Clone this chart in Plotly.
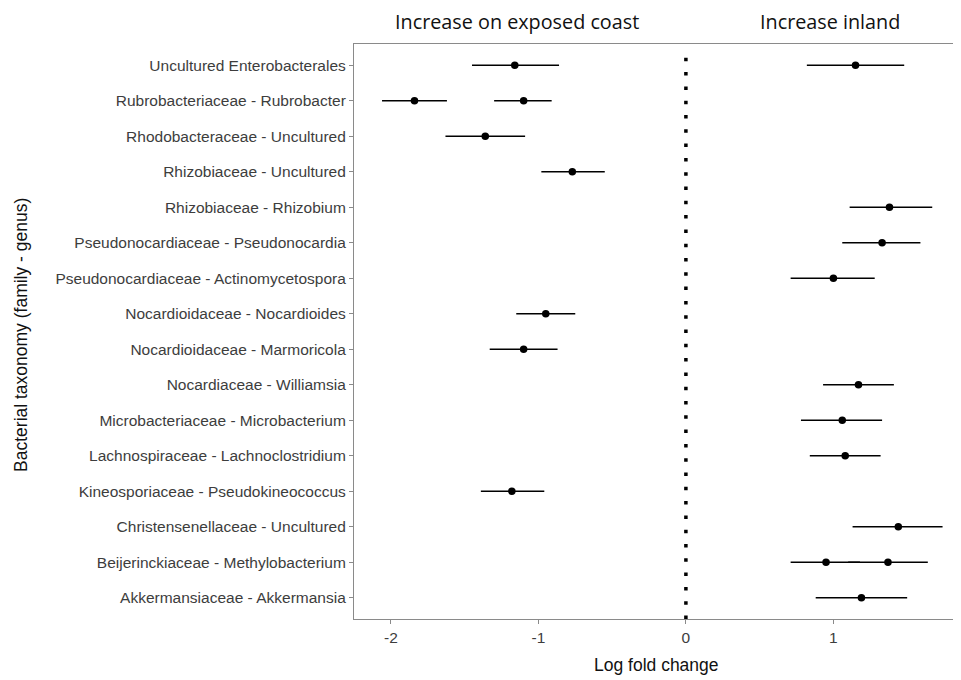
import plotly.graph_objects as go

# Taxa, top to bottom as shown
taxa = [
    "Uncultured Enterobacterales",
    "Rubrobacteriaceae - Rubrobacter",
    "Rhodobacteraceae - Uncultured",
    "Rhizobiaceae - Uncultured",
    "Rhizobiaceae - Rhizobium",
    "Pseudonocardiaceae - Pseudonocardia",
    "Pseudonocardiaceae - Actinomycetospora",
    "Nocardioidaceae - Nocardioides",
    "Nocardioidaceae - Marmoricola",
    "Nocardiaceae - Williamsia",
    "Microbacteriaceae - Microbacterium",
    "Lachnospiraceae - Lachnoclostridium",
    "Kineosporiaceae - Pseudokineococcus",
    "Christensenellaceae - Uncultured",
    "Beijerinckiaceae - Methylobacterium",
    "Akkermansiaceae - Akkermansia",
]

# Point estimates (one row per ASV)
point_taxon = [
    "Uncultured Enterobacterales", "Uncultured Enterobacterales",
    "Rubrobacteriaceae - Rubrobacter", "Rubrobacteriaceae - Rubrobacter",
    "Rhodobacteraceae - Uncultured",
    "Rhizobiaceae - Uncultured",
    "Rhizobiaceae - Rhizobium",
    "Pseudonocardiaceae - Pseudonocardia",
    "Pseudonocardiaceae - Actinomycetospora",
    "Nocardioidaceae - Nocardioides",
    "Nocardioidaceae - Marmoricola",
    "Nocardiaceae - Williamsia",
    "Microbacteriaceae - Microbacterium",
    "Lachnospiraceae - Lachnoclostridium",
    "Kineosporiaceae - Pseudokineococcus",
    "Christensenellaceae - Uncultured",
    "Beijerinckiaceae - Methylobacterium", "Beijerinckiaceae - Methylobacterium",
    "Akkermansiaceae - Akkermansia",
]
lfc = [-1.16, 1.15, -1.84, -1.10, -1.36, -0.77, 1.38, 1.33, 1.00, -0.95, -1.10,
       1.17, 1.06, 1.08, -1.18, 1.44, 0.95, 1.37, 1.19]
ci_low = [-1.45, 0.82, -2.06, -1.30, -1.63, -0.98, 1.11, 1.06, 0.71, -1.15, -1.33,
          0.93, 0.78, 0.84, -1.39, 1.13, 0.71, 1.10, 0.88]
ci_high = [-0.86, 1.48, -1.62, -0.91, -1.09, -0.55, 1.67, 1.59, 1.28, -0.75, -0.87,
           1.41, 1.33, 1.32, -0.96, 1.74, 1.18, 1.64, 1.50]

x_ticks = [-2, -1, 0, 1]
x_tick_labels = ["-2", "-1", "0", "1"]

err_plus = [h - v for h, v in zip(ci_high, lfc)]
err_minus = [v - l for v, l in zip(lfc, ci_low)]

fig = go.Figure()
fig.add_trace(go.Scatter(
    x=lfc, y=point_taxon, mode="markers",
    marker=dict(color="black", size=7.5),
    error_x=dict(type="data", symmetric=False, array=err_plus, arrayminus=err_minus,
                 color="black", thickness=1.6, width=0),
    showlegend=False, hoverinfo="x+y",
))

fig.add_shape(type="line", xref="x", yref="paper", x0=0, x1=0, y0=0, y1=0.98,
              line=dict(color="black", width=3.5, dash="3.5px,10.8px"), layer="below")

axis_gray = "#8a8a8a"
tick_color = "#3d3d3d"
fig.update_layout(
    width=953, height=672,
    margin=dict(l=346, r=0, t=36, b=61),
    paper_bgcolor="white", plot_bgcolor="white",
    font=dict(family="Liberation Sans, Arial, sans-serif", color=tick_color, size=15.5),
    xaxis=dict(
        range=[-2.25, 1.865], tickvals=x_ticks, ticktext=x_tick_labels,
        showgrid=False, zeroline=False, showline=True, mirror=True,
        linecolor=axis_gray, linewidth=1.2,
        ticks="outside", ticklen=4, tickcolor=axis_gray, tickwidth=1,
        tickfont=dict(size=15.5, color=tick_color),
    ),
    yaxis=dict(
        type="category", categoryorder="array", categoryarray=taxa[::-1],
        range=[-0.6, 15.6],
        showgrid=False, zeroline=False, showline=True, mirror=False,
        linecolor=axis_gray, linewidth=1.2,
        ticks="outside", ticklen=4, tickcolor=axis_gray, tickwidth=1,
        tickfont=dict(size=15.5, color=tick_color),
    ),
    annotations=[
        dict(text="Increase on exposed coast", xref="paper", yref="paper",
             x=0.2685, y=1.0383, xanchor="center", yanchor="middle", showarrow=False,
             font=dict(family="Open Sans, sans-serif", size=19.8, color="#111111")),
        dict(text="Increase inland", xref="paper", yref="paper",
             x=0.784, y=1.0383, xanchor="center", yanchor="middle", showarrow=False,
             font=dict(family="Open Sans, sans-serif", size=19.8, color="#111111")),
        dict(text="Log fold change", xref="paper", yref="paper",
             x=0.499, y=-0.080, xanchor="center", yanchor="middle", showarrow=False,
             font=dict(family="Liberation Sans, Arial, sans-serif", size=17.5, color="#111111")),
        dict(text="Bacterial taxonomy (family - genus)", xref="paper", yref="paper",
             x=-0.5486, y=0.494, xanchor="center", yanchor="middle", showarrow=False,
             textangle=-90,
             font=dict(family="Liberation Sans, Arial, sans-serif", size=17.5, color="#111111")),
    ],
)

fig.write_html("out.html")
